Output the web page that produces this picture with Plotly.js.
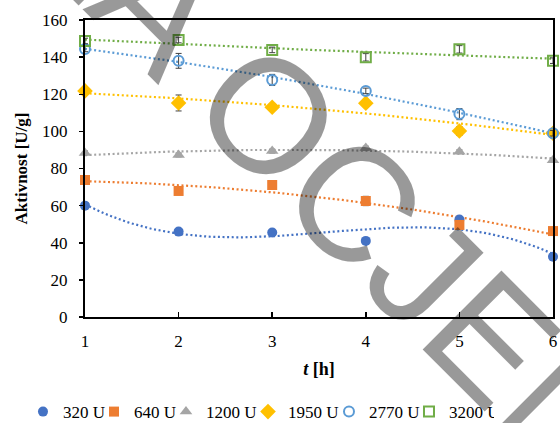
<!DOCTYPE html>
<html>
<head>
<meta charset="utf-8">
<script src="https://cdn.plot.ly/plotly-3.0.1.min.js"></script>
<style>
  html, body { margin: 0; padding: 0; background: #fff; }
  #chart { width: 560px; height: 423px; }
</style>
</head>
<body>
<div id="chart"></div>
<script>
// Time points [h]
const hours = [1, 2, 3, 4, 5, 6];

// Activity [U/g] per enzyme load
const names = ['320 U', '640 U', '1200 U', '1950 U', '2770 U', '3200 U'];
const act320  = [60, 46, 45.5, 41, 52.5, 32.5];
const act640  = [73.8, 67.9, 71.1, 62.5, 49.6, 46.3];
const act1200 = [88.4, 87.3, 89.4, 91, 89, 84.5];
const act1950 = [121.8, 115.3, 113, 115.2, 100.2, 99];
const act2770 = [144.4, 138, 127.7, 121.8, 109.3, 99];
const act3200 = [148.7, 149.2, 143.9, 139.9, 144.2, 138.1];

// Standard deviations
const sd320  = [1, 1, 1.5, 1.5, 1, 1];
const sd640  = [1.5, 1.5, 1, 2.5, 1, 1];
const sd1200 = [1, 1, 1, 1, 1, 1];
const sd1950 = [1.5, 4.3, 1.5, 1.5, 2.4, 1.5];
const sd2770 = [1.5, 4, 3, 1.5, 3, 1.5];
const sd3200 = [1.5, 1.5, 1.5, 2, 2, 1.5];

// Polynomial order of each trendline
const trendOrder = [3, 2, 2, 2, 2, 2];

const series = [act320, act640, act1200, act1950, act2770, act3200];
const errors = [sd320, sd640, sd1200, sd1950, sd2770, sd3200];

const colors = ['#4472C4', '#ED7D31', '#A5A5A5', '#FFC000', '#5B9BD5', '#70AD47'];
const markers = [
  { symbol: 'circle', size: 10, color: colors[0] },
  { symbol: 'square', size: 10, color: colors[1] },
  { symbol: 'triangle-up', size: 11, color: colors[2] },
  { symbol: 'diamond', size: 12, color: colors[3] },
  { symbol: 'circle-open', size: 10, color: colors[4], line: { width: 2, color: colors[4] } },
  { symbol: 'square-open', size: 10, color: colors[5], line: { width: 2, color: colors[5] } }
];
// legend entry widths, so the row keeps its compact spacing
const entryWidths = [26, 27, 37, 36, 35, 40];

// Least-squares polynomial fit (normal equations)
function polyfit(xs, ys, order) {
  const n = order + 1;
  const A = Array.from({ length: n }, () => new Array(n + 1).fill(0));
  for (let i = 0; i < xs.length; i++) {
    for (let r = 0; r < n; r++) {
      for (let c = 0; c < n; c++) A[r][c] += Math.pow(xs[i], r + c);
      A[r][n] += ys[i] * Math.pow(xs[i], r);
    }
  }
  for (let k = 0; k < n; k++) {
    let p = k;
    for (let r = k + 1; r < n; r++) if (Math.abs(A[r][k]) > Math.abs(A[p][k])) p = r;
    [A[k], A[p]] = [A[p], A[k]];
    for (let r = 0; r < n; r++) {
      if (r === k) continue;
      const f = A[r][k] / A[k][k];
      for (let c = k; c <= n; c++) A[r][c] -= f * A[k][c];
    }
  }
  return A.map((row, k) => row[n] / row[k]);
}

const grid = [];
for (let t = hours[0]; t <= hours[hours.length - 1] + 1e-9; t += 0.05) grid.push(t);

const traces = [];
// trendlines first, under the markers
series.forEach((ys, i) => {
  const coef = polyfit(hours, ys, trendOrder[i]);
  const yFit = grid.map(t => coef.reduce((s, c, k) => s + c * Math.pow(t, k), 0));
  traces.push({
    x: grid, y: yFit, type: 'scatter', mode: 'lines',
    line: { color: colors[i], width: 2.2, dash: '2px,2.6px' },
    showlegend: false, hoverinfo: 'skip', cliponaxis: false
  });
});
series.forEach((ys, i) => {
  traces.push({
    x: hours, y: ys, type: 'scatter', mode: 'markers', name: names[i],
    marker: markers[i], legendwidth: entryWidths[i],
    error_y: { type: 'data', array: errors[i], visible: true, color: '#404040', thickness: 1, width: 3 },
    cliponaxis: false
  });
});

const serif = 'Liberation Serif, Times New Roman, serif';

const layout = {
  width: 560, height: 423,
  margin: { l: 85, r: 7, t: 20, b: 106, pad: 0, autoexpand: false },
  paper_bgcolor: '#fff', plot_bgcolor: '#fff',
  font: { family: serif, size: 17, color: '#000' },
  showlegend: true,
  legend: {
    orientation: 'h', x: -0.1325, xanchor: 'left', y: -0.32, yanchor: 'middle',
    font: { family: serif, size: 17, color: '#000' },
    itemwidth: 30, tracegroupgap: 0
  },
  xaxis: {
    range: [1, 6], dtick: 1, tick0: 1,
    showgrid: false, zeroline: false,
    showline: true, linecolor: '#000', linewidth: 2, mirror: true,
    ticks: 'inside', ticklen: 5, tickcolor: '#000', tickwidth: 1.5,
    ticklabelstandoff: 8,
    title: { text: '<b><i>t</i> [h]</b>', font: { family: serif, size: 18 }, standoff: 12 },
    automargin: false
  },
  yaxis: {
    range: [0, 160], dtick: 20,
    showgrid: false, zeroline: false,
    showline: true, linecolor: '#000', linewidth: 2, mirror: true,
    ticks: 'outside', ticklen: 4, tickcolor: '#000', tickwidth: 1.5,
    ticklabelstandoff: 8,
    title: { text: '<b>Aktivnost [U/g]</b>', font: { family: serif, size: 17 }, standoff: 10 },
    automargin: false
  },
  // diagonal review stamp across the figure
  annotations: [{
    xref: 'paper', yref: 'paper', x: 0.6167, y: 0.3246,
    xanchor: 'center', yanchor: 'middle',
    text: 'ZA OCJENU', showarrow: false, textangle: 45,
    font: { family: 'Liberation Sans, Arial, sans-serif', size: 162, color: 'rgba(0,0,0,0.4)' }
  }]
};

Plotly.newPlot('chart', traces, layout, { staticPlot: true, displayModeBar: false });
</script>
</body>
</html>
